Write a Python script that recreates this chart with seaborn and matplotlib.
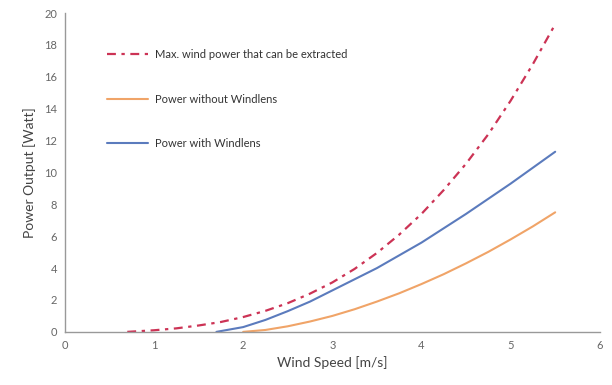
import numpy as np
import pandas as pd
import matplotlib.pyplot as plt
import seaborn as sns

# values
speed_max = [0.7, 1.0, 1.25, 1.5, 1.75, 2.0, 2.25, 2.5, 2.75, 3.0, 3.25,
             3.5, 3.75, 4.0, 4.25, 4.5, 4.75, 5.0, 5.25, 5.5]
power_max = [0.0, 0.1, 0.22, 0.4, 0.62, 0.93, 1.32, 1.8, 2.4, 3.1, 3.95,
             4.95, 6.1, 7.4, 8.9, 10.55, 12.4, 14.5, 16.8, 19.3]

speed_with = [1.7, 2.0, 2.25, 2.5, 2.75, 3.0, 3.25, 3.5, 3.75, 4.0, 4.25,
              4.5, 4.75, 5.0, 5.25, 5.5]
power_with = [0.0, 0.3, 0.75, 1.3, 1.9, 2.6, 3.3, 4.0, 4.8, 5.6, 6.5,
              7.4, 8.35, 9.3, 10.3, 11.3]

speed_without = [2.0, 2.25, 2.5, 2.75, 3.0, 3.25, 3.5, 3.75, 4.0, 4.25,
                 4.5, 4.75, 5.0, 5.25, 5.5]
power_without = [0.0, 0.12, 0.35, 0.65, 1.0, 1.42, 1.9, 2.42, 3.0, 3.62,
                 4.3, 5.02, 5.8, 6.62, 7.5]

labels = ['Max. wind power that can be extracted',
          'Power without Windlens',
          'Power with Windlens']

sns.set_style('white')
plt.rcParams['font.family'] = ['Lato', 'DejaVu Sans']

fig = plt.figure(figsize=(6.12, 3.85), dpi=100)
ax = fig.add_axes([0.106, 0.138, 0.874, 0.828])

sns.lineplot(x=speed_max, y=power_max, ax=ax, color='#cc3355', lw=1.6,
             linestyle=(0, (4, 2.5, 1.5, 2.5)), label=labels[0])
sns.lineplot(x=speed_without, y=power_without, ax=ax, color='#f0a468', lw=1.5,
             label=labels[1])
sns.lineplot(x=speed_with, y=power_with, ax=ax, color='#5b7bbd', lw=1.5,
             label=labels[2])

ax.set_xlim(0, 6)
ax.set_ylim(0, 20)
ax.set_xticks(range(0, 7))
ax.set_yticks(range(0, 21, 2))
ax.tick_params(axis='both', direction='inout', length=4, width=0.8,
               colors='#888888', labelsize=8, labelcolor='#666666')
for s in ['top', 'right']:
    ax.spines[s].set_visible(False)
for s in ['left', 'bottom']:
    ax.spines[s].set_color('#999999')
    ax.spines[s].set_linewidth(1.0)

ax.set_xlabel('Wind Speed [m/s]', fontsize=10, color='#444444', labelpad=4)
ax.set_ylabel('Power Output [Watt]', fontsize=10, color='#444444', labelpad=6)

leg = ax.legend(loc='upper left', bbox_to_anchor=(0.06, 0.918), frameon=False,
                fontsize=8, labelspacing=3.0, handlelength=3.7, handletextpad=0.6)
for t in leg.get_texts():
    t.set_color('#333333')

plt.savefig('out.png', dpi=100)
